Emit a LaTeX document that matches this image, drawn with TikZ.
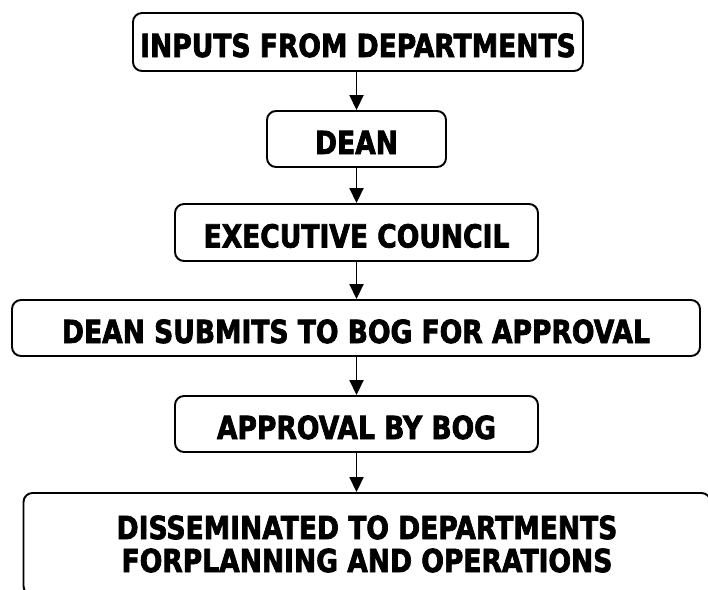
\documentclass[tikz,border=0pt]{standalone}
\usepackage{fontspec}
\usetikzlibrary{arrows.meta}
\newfontfamily\flowfont{DejaVu Sans}[FakeStretch=0.835, FakeBold=2.2]
\begin{document}
\begin{tikzpicture}[x=1pt,y=-1pt,
  flowbox/.style={draw=black, line width=1.9pt, rounded corners=9pt,
    fill=white, inner sep=0pt, align=center,
    font=\flowfont\bfseries\fontsize{31.8}{33}\selectfont},
  onerow/.style={text height=30pt, text depth=0pt},
  flowarrow/.style={line width=1.8pt, -{Triangle[length=15pt,width=14pt]}}]
  \useasboundingbox (0,0) rectangle (708,589);
  \clip (0,0) rectangle (708,589);
  \fill[white] (0,0) rectangle (708,589);

  % spine the arrows follow
  \coordinate (spine) at (356.5,0);

  \node[flowbox, onerow, minimum width=450pt, minimum height=58pt] (inputs) at (358,42) {INPUTS FROM DEPARTMENTS};
  \node[flowbox, onerow, minimum width=179pt, minimum height=56pt] (dean) at (356.5,139) {DEAN};
  \node[flowbox, onerow, minimum width=363pt, minimum height=57pt] (council) at (356.5,232.5) {EXECUTIVE COUNCIL};
  \node[flowbox, onerow, minimum width=688pt, minimum height=56pt] (submit) at (356,328) {DEAN SUBMITS TO BOG FOR APPROVAL};
  \node[flowbox, onerow, minimum width=363pt, minimum height=56pt] (approval) at (356.5,424) {APPROVAL BY BOG};
  \node[flowbox, minimum width=687pt, minimum height=102pt] (spread) at (367,544) {DISSEMINATED TO DEPARTMENTS\\FORPLANNING AND OPERATIONS};

  \draw[flowarrow] (inputs.south -| spine) -- (dean.north -| spine);
  \draw[flowarrow] (dean.south -| spine) -- (council.north -| spine);
  \draw[flowarrow] (council.south -| spine) -- (submit.north -| spine);
  \draw[flowarrow] (submit.south -| spine) -- (approval.north -| spine);
  \draw[flowarrow] (approval.south -| spine) -- (spread.north -| spine);
\end{tikzpicture}
\end{document}
